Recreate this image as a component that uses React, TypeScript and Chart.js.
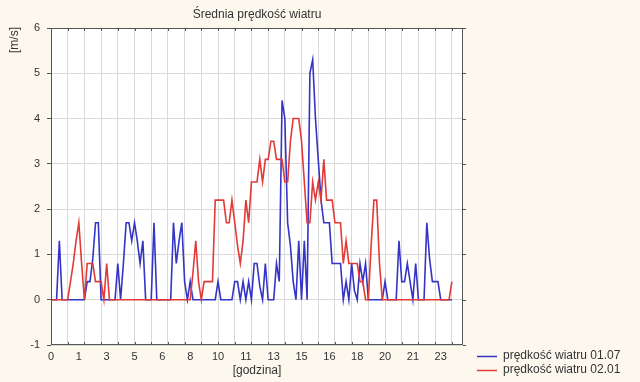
import React, { useEffect, useRef } from 'react';
import { Chart, registerables } from 'chart.js';

Chart.register(...registerables);

const TITLE = 'Średnia prędkość wiatru';
const Y_TITLE = '[m/s]';
const X_TITLE = '[godzina]';
const SERIES_NAMES = ['prędkość wiatru 01.07', 'prędkość wiatru 02.01'];

// 10-minute samples (index 0..144 = 00:00..24:00)
const SAMPLES_PER_HOUR = 6;
const LABEL_EVERY = 10;
const HOURS = 24;
const Y_TICKS = [-1, 0, 1, 2, 3, 4, 5, 6];

const wind0107 = [
  0, 0, 0, 1.3, 0, 0, 0, 0, 0, 0, 0, 0,
  0, 0.4, 0.4, 0.9, 1.7, 1.7, 0, 0, 0, 0, 0, 0,
  0.8, 0, 0.8, 1.7, 1.7, 1.3, 1.7, 1.3, 0.8, 1.3, 0, 0,
  0, 1.7, 0, 0, 0, 0, 0, 0, 1.7, 0.8, 1.3, 1.7,
  0.4, 0, 0.4, 0, 0, 0, 0, 0, 0, 0, 0, 0,
  0.4, 0, 0, 0, 0, 0, 0.4, 0.4, 0, 0.4, 0, 0.4,
  0, 0.8, 0.8, 0.3, 0, 0.8, 0, 0, 0, 0.8, 0.4, 4.4,
  4.0, 1.7, 1.2, 0.4, 0, 1.3, 0, 1.3, 0, 5.0, 5.3, 4.0,
  3.1, 2.2, 1.7, 1.7, 1.7, 0.8, 0.8, 0.8, 0.8, 0, 0.4, 0,
  0.8, 0.2, 0, 0.8, 0.4, 0.8, 0, 0, 0, 0, 0, 0,
  0.4, 0, 0, 0, 0, 1.3, 0.4, 0.4, 0.8, 0.4, 0, 0.8,
  0, 0, 0, 1.7, 0.9, 0.4, 0.4, 0.4, 0, 0, 0, 0,
  0,
];

const wind0201 = [
  0, 0, 0, 0, 0, 0, 0, 0.4, 0.8, 1.3, 1.7, 0.8,
  0, 0.8, 0.8, 0.8, 0.4, 0.4, 0.4, 0, 0.8, 0, 0, 0,
  0, 0, 0, 0, 0, 0, 0, 0, 0, 0, 0, 0,
  0, 0, 0, 0, 0, 0, 0, 0, 0, 0, 0, 0,
  0, 0, 0, 0.6, 1.3, 0.4, 0, 0.4, 0.4, 0.4, 0.4, 2.2,
  2.2, 2.2, 2.2, 1.7, 1.7, 2.2, 1.7, 1.2, 0.8, 1.3, 2.2, 1.7,
  2.6, 2.6, 2.6, 3.1, 2.6, 3.1, 3.1, 3.5, 3.5, 3.1, 3.1, 3.1,
  2.6, 2.6, 3.5, 4.0, 4.0, 4.0, 3.5, 2.6, 1.7, 1.7, 2.6, 2.2,
  2.6, 2.2, 3.1, 2.2, 2.2, 2.2, 1.7, 1.7, 1.7, 0.8, 1.3, 0.8,
  0.8, 0.8, 0.8, 0.4, 0.4, 0, 0, 1.2, 2.2, 2.2, 0.8, 0,
  0, 0, 0, 0, 0, 0, 0, 0, 0, 0, 0, 0,
  0, 0, 0, 0, 0, 0, 0, 0, 0, 0, 0, 0,
  0.4,
];

const BLUE = '#3434c6';
const RED = '#e23a36';
const GRID = '#d9d9d9';
const FRAME = '#555555';
const BG = '#fcf8ee';
const TEXT = '#333333';
const FONT_FAMILY = '"Liberation Sans", Arial, sans-serif';

const xTickValues: number[] = (() => {
  const s = new Set<number>();
  for (let h = 0; h <= HOURS; h++) s.add(h * SAMPLES_PER_HOUR);
  for (let v = 0; v <= 140; v += LABEL_EVERY) s.add(v);
  return Array.from(s).sort((a, b) => a - b);
})();

const decor = {
  id: 'decor',
  beforeDraw(chart: any) {
    const { ctx, chartArea: a, width, height } = chart;
    ctx.save();
    ctx.fillStyle = BG;
    ctx.fillRect(0, 0, width, height);
    ctx.fillStyle = '#ffffff';
    ctx.fillRect(a.left, a.top, a.right - a.left, a.bottom - a.top);
    ctx.restore();
  },
  afterDraw(chart: any) {
    const { ctx, chartArea: a, scales } = chart;
    const line = (x1: number, y1: number, x2: number, y2: number) => {
      ctx.beginPath();
      ctx.moveTo(x1, y1);
      ctx.lineTo(x2, y2);
      ctx.stroke();
    };
    ctx.save();
    ctx.strokeStyle = FRAME;
    ctx.lineWidth = 1;
    ctx.strokeRect(a.left + 0.5, a.top + 0.5, a.right - a.left - 1, a.bottom - a.top - 1);
    for (let h = 0; h <= HOURS; h++) {
      const x = Math.round(scales.x.getPixelForValue(h * SAMPLES_PER_HOUR)) + 0.5;
      line(x, a.bottom, x, a.bottom - 3);
      line(x, a.top, x, a.top + 3);
    }
    for (const v of Y_TICKS) {
      const y = Math.round(scales.y.getPixelForValue(v)) + 0.5;
      line(a.right, y, a.right + 3, y);
    }
    const cx = (a.left + a.right) / 2;
    ctx.fillStyle = TEXT;
    ctx.textAlign = 'center';
    ctx.textBaseline = 'middle';
    ctx.font = `12px ${FONT_FAMILY}`;
    ctx.fillText(TITLE, cx, 15);
    ctx.fillText(X_TITLE, cx, 371);
    ctx.save();
    ctx.translate(15, 40);
    ctx.rotate(-Math.PI / 2);
    ctx.fillText(Y_TITLE, 0, 0);
    ctx.restore();

    // legend
    const colors = [BLUE, RED];
    ctx.textAlign = 'left';
    ctx.font = `12px ${FONT_FAMILY}`;
    SERIES_NAMES.forEach((name, i) => {
      const y = 356 + i * 14;
      ctx.strokeStyle = colors[i];
      ctx.lineWidth = 1.5;
      line(477, y + 0.5, 497, y + 0.5);
      ctx.fillStyle = TEXT;
      ctx.fillText(name, 503, y);
    });
    ctx.restore();
  },
};

export default function App() {
  const ref = useRef<HTMLCanvasElement | null>(null);

  useEffect(() => {
    if (!ref.current) return;
    const chart = new Chart(ref.current, {
      type: 'line',
      data: {
        datasets: [
          {
            label: SERIES_NAMES[0],
            data: wind0107.map((v, i) => ({ x: i, y: v })),
            borderColor: BLUE,
            backgroundColor: BLUE,
            borderWidth: 1.6,
            pointRadius: 0,
            tension: 0,
            fill: false,
            order: 1,
          },
          {
            label: SERIES_NAMES[1],
            data: wind0201.map((v, i) => ({ x: i, y: v })),
            borderColor: RED,
            backgroundColor: RED,
            borderWidth: 1.6,
            pointRadius: 0,
            tension: 0,
            fill: false,
            order: 0,
          },
        ],
      },
      options: {
        responsive: false,
        animation: false,
        events: [],
        layout: { padding: { left: 0, right: 177, top: 28, bottom: 0 } },
        plugins: {
          legend: { display: false },
          title: { display: false },
          tooltip: { enabled: false },
        },
        scales: {
          x: {
            type: 'linear',
            min: 0,
            max: 148,
            afterBuildTicks: (s: any) => {
              s.ticks = xTickValues.map((v) => ({ value: v }));
            },
            afterFit: (s: any) => {
              s.height = 37;
            },
            ticks: {
              autoSkip: false,
              maxRotation: 0,
              minRotation: 0,
              padding: 5,
              color: TEXT,
              font: { family: FONT_FAMILY, size: 11 },
              callback: (v: any) =>
                Number(v) % LABEL_EVERY === 0 ? String(Math.floor(Number(v) / SAMPLES_PER_HOUR)) : '',
            },
            grid: {
              color: (c: any) =>
                c.tick && c.tick.value % SAMPLES_PER_HOUR === 0 ? GRID : 'rgba(0,0,0,0)',
              drawTicks: false,
            },
            border: { display: false },
          },
          y: {
            type: 'linear',
            min: -1,
            max: 6,
            afterBuildTicks: (s: any) => {
              s.ticks = Y_TICKS.map((v) => ({ value: v }));
            },
            afterFit: (s: any) => {
              s.width = 51;
            },
            ticks: {
              padding: 7,
              color: TEXT,
              font: { family: FONT_FAMILY, size: 11 },
              callback: (v: any) => String(v),
            },
            grid: { color: GRID, tickLength: 4, tickColor: FRAME },
            border: { display: false },
          },
        },
      },
      plugins: [decor],
    } as any);
    return () => chart.destroy();
  }, []);

  return (
    <div style={{ position: 'fixed', left: 0, top: 0, width: 640, height: 382 }}>
      <canvas ref={ref} width={640} height={382} style={{ display: 'block' }} />
    </div>
  );
}
